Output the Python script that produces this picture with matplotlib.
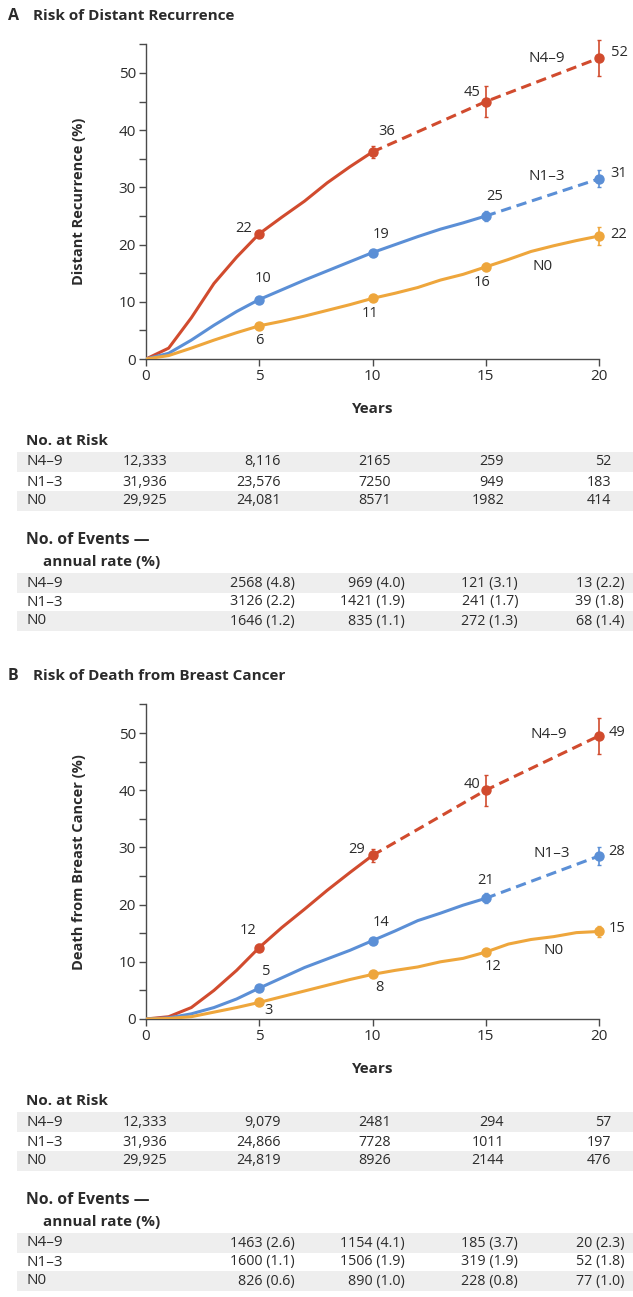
import matplotlib
matplotlib.use("Agg")
import matplotlib.pyplot as plt
from matplotlib.patches import Rectangle
import numpy as np

plt.rcParams['font.family'] = ['Open Sans', 'DejaVu Sans']

# ---------------- data ----------------
years = list(range(0, 21))
mark_years = [5, 10, 15, 20]
groups = ["N4\u20139", "N1\u20133", "N0"]

# Panel A: distant recurrence (%)
A_n49_solid = [0, 1.9, 7.2, 13.2, 17.8, 21.9, 24.8, 27.6, 30.8, 33.6, 36.2]
A_n49_dash = [36.2, 45.0, 52.6]
A_n13_solid = [0, 1.0, 3.3, 5.9, 8.3, 10.4, 12.1, 13.8, 15.4, 17.0, 18.6,
               20.0, 21.4, 22.7, 23.8, 25.0]
A_n13_dash = [25.0, 31.5]
A_n0_solid = [0, 0.6, 1.9, 3.3, 4.6, 5.8, 6.6, 7.5, 8.5, 9.5, 10.6,
              11.5, 12.5, 13.8, 14.8, 16.1, 17.4, 18.8, 19.8, 20.7, 21.5]
A_marks = {"N4\u20139": [21.9, 36.2, 45.0, 52.6],
           "N1\u20133": [10.4, 18.6, 25.0, 31.5],
           "N0": [5.8, 10.6, 16.1, 21.5]}
A_err = {"N4\u20139": [0.5, 1.0, 2.7, 3.1],
         "N1\u20133": [0.4, 0.5, 0.9, 1.5],
         "N0": [0.3, 0.4, 0.6, 1.5]}
A_labels = {"N4\u20139": ["22", "36", "45", "52"],
            "N1\u20133": ["10", "19", "25", "31"],
            "N0": ["6", "11", "16", "22"]}

# Panel B: death from breast cancer (%)
B_n49_solid = [0, 0.4, 2.0, 5.0, 8.5, 12.5, 16.0, 19.2, 22.5, 25.6, 28.6]
B_n49_dash = [28.6, 40.0, 49.5]
B_n13_solid = [0, 0.2, 0.9, 2.0, 3.5, 5.4, 7.2, 9.0, 10.5, 12.0, 13.7,
               15.4, 17.2, 18.5, 19.9, 21.1]
B_n13_dash = [21.1, 28.5]
B_n0_solid = [0, 0.1, 0.4, 1.2, 2.0, 2.9, 3.9, 4.9, 5.9, 6.9, 7.8,
              8.5, 9.1, 10.0, 10.6, 11.7, 13.1, 13.9, 14.4, 15.1, 15.3]
B_marks = {"N4\u20139": [12.5, 28.6, 40.0, 49.5],
           "N1\u20133": [5.4, 13.7, 21.1, 28.5],
           "N0": [2.9, 7.8, 11.7, 15.3]}
B_err = {"N4\u20139": [0.6, 1.1, 2.7, 3.2],
         "N1\u20133": [0.3, 0.5, 0.9, 1.6],
         "N0": [0.3, 0.4, 0.5, 0.9]}
B_labels = {"N4\u20139": ["12", "29", "40", "49"],
            "N1\u20133": ["5", "14", "21", "28"],
            "N0": ["3", "8", "12", "15"]}

# Tables
A_risk = [["12,333", "8,116", "2165", "259", "52"],
          ["31,936", "23,576", "7250", "949", "183"],
          ["29,925", "24,081", "8571", "1982", "414"]]
A_events = [["2568 (4.8)", "969 (4.0)", "121 (3.1)", "13 (2.2)"],
            ["3126 (2.2)", "1421 (1.9)", "241 (1.7)", "39 (1.8)"],
            ["1646 (1.2)", "835 (1.1)", "272 (1.3)", "68 (1.4)"]]
B_risk = [["12,333", "9,079", "2481", "294", "57"],
          ["31,936", "24,866", "7728", "1011", "197"],
          ["29,925", "24,819", "8926", "2144", "476"]]
B_events = [["1463 (2.6)", "1154 (4.1)", "185 (3.7)", "20 (2.3)"],
            ["1600 (1.1)", "1506 (1.9)", "319 (1.9)", "52 (1.8)"],
            ["826 (0.6)", "890 (1.0)", "228 (0.8)", "77 (1.0)"]]

# ---------------- style ----------------
colors = {"N4\u20139": "#D14B2E", "N1\u20133": "#5B8FD6", "N0": "#EEA63C"}
txt = "#2b2b2b"
spine_c = "#4a4a4a"
W, H = 633, 1297
fig = plt.figure(figsize=(W / 100, H / 100), dpi=100)

def fx(px):
    return px / W

def fy(py):
    return 1 - py / H

# label offsets in pixels (dx, dy) relative to the marker
A_off = {"N4\u20139": [(-16, 5), (14, 20), (-14, 9), (20, 6)],
         "N1\u20133": [(4, 21), (9, 18), (9, 20), (20, 5)],
         "N0": [(0, -15), (-2, -15), (-4, -16), (20, 2)]}
B_off = {"N4\u20139": [(-11, 17), (-16, 6), (-14, 6), (18, 3)],
         "N1\u20133": [(7, 17), (9, 18), (0, 18), (18, 4)],
         "N0": [(9, -8), (7, -13), (7, -14), (18, 3)]}
A_name_pos = {"N4\u20139": (17.7, 52.6), "N1\u20133": (17.7, 31.9), "N0": (17.5, 16.1)}
B_name_pos = {"N4\u20139": (17.8, 49.8), "N1\u20133": (17.9, 29.0), "N0": (18.0, 11.9)}

dash = (0, (3.4, 1.9))
lw = 2.2

def draw_panel(top_px, letter, title, ylabel, solids, dashes, marks, errs,
               labels, offs, name_pos):
    y0 = top_px + 359
    ytop = y0 - 55 * 5.72
    ax = fig.add_axes([fx(146), fy(y0), fx(599 - 146), (y0 - ytop) / H])
    n49s, n13s, n0s = solids
    n49d, n13d = dashes
    ax.plot(years[:11], n49s, color=colors["N4\u20139"], lw=lw, solid_capstyle='round', zorder=3)
    ax.plot([10, 15, 20], n49d, color=colors["N4\u20139"], lw=lw, ls=dash, zorder=3)
    ax.plot(years[:16], n13s, color=colors["N1\u20133"], lw=lw, solid_capstyle='round', zorder=3)
    ax.plot([15, 20], n13d, color=colors["N1\u20133"], lw=lw, ls=dash, zorder=3)
    ax.plot(years, n0s, color=colors["N0"], lw=lw, solid_capstyle='round', zorder=3)
    for g in groups:
        ax.errorbar(mark_years, marks[g], yerr=errs[g], fmt='o', color=colors[g],
                    ms=6.5, elinewidth=1.2, capsize=1.6, capthick=1.0, zorder=4,
                    clip_on=False)
        for x, y, s, (dx, dy) in zip(mark_years, marks[g], labels[g], offs[g]):
            ax.annotate(s, (x, y), xytext=(dx * 0.72, dy * 0.72),
                        textcoords='offset points', ha='center', va='center',
                        fontsize=10.5, color=txt, annotation_clip=False)
        ax.text(*name_pos[g], g, ha='center', va='center', fontsize=11, color=txt)
    ax.set_xlim(0, 20)
    ax.set_ylim(0, 55)
    ax.set_xticks([0, 5, 10, 15, 20])
    ax.set_yticks([0, 10, 20, 30, 40, 50])
    ax.set_yticks([5, 15, 25, 35, 45, 55], minor=True)
    for s in ["top", "right"]:
        ax.spines[s].set_visible(False)
    for s in ["left", "bottom"]:
        ax.spines[s].set_color(spine_c)
        ax.spines[s].set_linewidth(1.0)
    ax.tick_params(axis='both', which='both', direction='out', length=4.8,
                   width=1.0, color=spine_c, labelsize=11, labelcolor=txt, pad=2.5)
    ax.set_ylabel(ylabel, fontsize=10.5, fontweight='bold', color=txt)
    ax.yaxis.set_label_coords(-0.132, 0.5)
    # titles
    fig.text(fx(8), fy(top_px + 16), letter, fontsize=11.5, fontweight='bold',
             color=txt, va='center', ha='left')
    fig.text(fx(33), fy(top_px + 16), title, fontsize=11, fontweight='bold',
             color=txt, va='center', ha='left')
    fig.text(fx(373), fy(top_px + 409), "Years", fontsize=11, fontweight='bold',
             color=txt, va='center', ha='center')
    return ax

risk_right = [167, 281, 391, 504, 611]
ev_right = [295, 405, 518, 624]

def draw_table(top_px, risk, events):
    fig.text(fx(26), fy(top_px + 441), "No. at Risk", fontsize=11,
             fontweight='bold', color=txt, va='center', ha='left')
    risk_rows = [462, 482, 501]
    for i, (g, ry) in enumerate(zip(groups, risk_rows)):
        if i != 1:
            fig.patches.append(Rectangle((fx(17), fy(top_px + ry + 9.8)), fx(633 - 17),
                                         19.6 / H, transform=fig.transFigure,
                                         facecolor="#EEEEEE", edgecolor='none', zorder=0))
        fig.text(fx(26), fy(top_px + ry), g, fontsize=11, color=txt, va='center', ha='left')
        for xr, s in zip(risk_right, risk[i]):
            fig.text(fx(xr), fy(top_px + ry), s, fontsize=10.3, color=txt,
                     va='center', ha='right')
    fig.text(fx(26), fy(top_px + 540), "No. of Events \u2014", fontsize=11.3,
             fontweight='bold', color=txt, va='center', ha='left')
    fig.text(fx(43), fy(top_px + 562), "annual rate (%)", fontsize=11,
             fontweight='bold', color=txt, va='center', ha='left')
    ev_rows = [583, 602, 621]
    for i, (g, ry) in enumerate(zip(groups, ev_rows)):
        if i != 1:
            fig.patches.append(Rectangle((fx(17), fy(top_px + ry + 9.8)), fx(633 - 17),
                                         19.6 / H, transform=fig.transFigure,
                                         facecolor="#EEEEEE", edgecolor='none', zorder=0))
        fig.text(fx(26), fy(top_px + ry), g, fontsize=11, color=txt, va='center', ha='left')
        for xr, s in zip(ev_right, events[i]):
            fig.text(fx(xr), fy(top_px + ry), s, fontsize=10.3, color=txt,
                     va='center', ha='right')

draw_panel(0, "A", "Risk of Distant Recurrence", "Distant Recurrence (%)",
           (A_n49_solid, A_n13_solid, A_n0_solid), (A_n49_dash, A_n13_dash),
           A_marks, A_err, A_labels, A_off, A_name_pos)
draw_table(0, A_risk, A_events)
draw_panel(660, "B", "Risk of Death from Breast Cancer", "Death from Breast Cancer (%)",
           (B_n49_solid, B_n13_solid, B_n0_solid), (B_n49_dash, B_n13_dash),
           B_marks, B_err, B_labels, B_off, B_name_pos)
draw_table(660, B_risk, B_events)

fig.savefig("out.png", dpi=100, facecolor="white")
